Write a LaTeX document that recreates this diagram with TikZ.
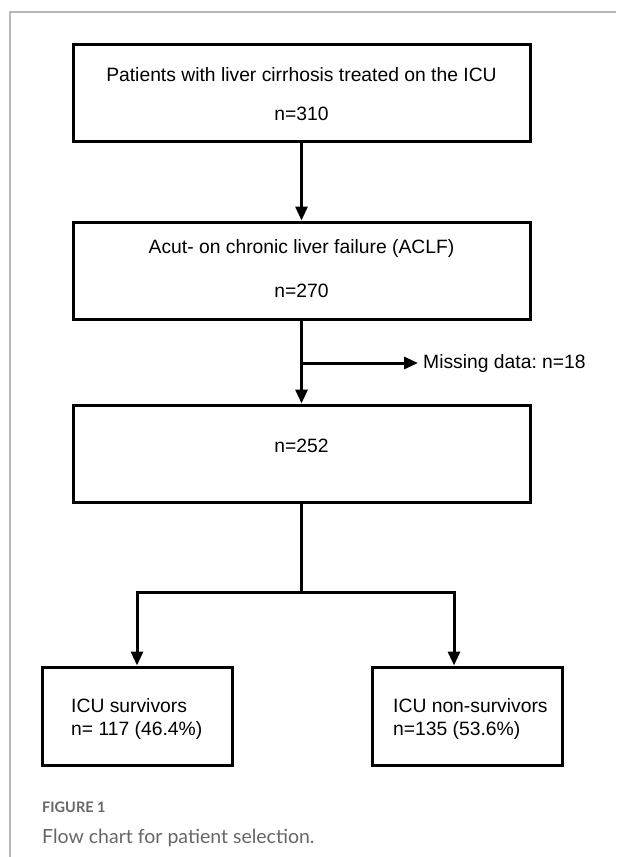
\documentclass[tikz,border=0pt]{standalone}
\usepackage{fontspec}
\setmainfont{Liberation Sans}
\newfontfamily\capfont{Lato}
\usetikzlibrary{arrows.meta}
\definecolor{framegray}{HTML}{B8B8B8}
\definecolor{capgray}{HTML}{666666}
\frenchspacing
\tikzset{
  box/.style={draw, line width=3pt, inner sep=0pt},
  txt/.style={font=\fontsize{19.3}{23}\selectfont, inner sep=0pt, anchor=base},
  txtw/.style={font=\fontsize{19.3}{23}\selectfont, inner sep=0pt, anchor=base west},
  conn/.style={line width=3pt},
  arr/.style={line width=3pt, -{Triangle[length=14pt,width=12pt]}},
  framestyle/.style={draw=framegray, line width=1.2pt},
}
\begin{document}
\begin{tikzpicture}[x=1pt,y=-1pt]
\useasboundingbox (0,0) rectangle (616,857);
% outer frame
\draw[framestyle] (10,857) -- (10,12) -- (616,12);

% boxes
\node[box, minimum width=457pt, minimum height=97pt] (b1) at (301.5,92.5) {};
\node[box, minimum width=457pt, minimum height=97pt] (b2) at (301.5,270.5) {};
\node[box, minimum width=457pt, minimum height=97pt] (b3) at (301.5,453.5) {};
\node[box, minimum width=190pt, minimum height=98pt] (b4) at (137,716) {};
\node[box, minimum width=190pt, minimum height=98pt] (b5) at (467,716) {};

% texts
\node[txt] (t1a) at (301.5,81) {Patients with liver cirrhosis treated on the ICU};
\node[txt] (t1b) at (301.5,120) {n=310};
\node[txt] (t2a) at (301.5,253) {Acut- on chronic liver failure (ACLF)};
\node[txt] (t2b) at (301.5,297) {n=270};
\node[txt] (t3) at (301.5,452) {n=252};
\node[txtw] (t4a) at (71,712) {ICU survivors};
\node[txtw] (t4b) at (71,735) {n= 117 (46.4\%)};
\node[txtw] (t5a) at (393,712) {ICU non-survivors};
\node[txtw] (t5b) at (393,735) {n=135 (53.6\%)};

% connectors
\draw[arr] (b1.south) -- (b2.north);
\draw[arr] (b2.south) -- (b3.north);
\coordinate (m) at (301.5,363);
\coordinate (mtip) at (418,363);
\node[font=\fontsize{19.3}{23}\selectfont, inner sep=0pt, anchor=west] (mt) at (423,364) {Missing data: n=18};
\draw[arr] (m) -- (mtip);

\coordinate (j) at (301.5,592);
\coordinate (jl) at (137,592);
\coordinate (jr) at (454,592);
\draw[conn] (b3.south) -- (j);
\draw[conn, line cap=rect] (jl) -- (jr);
\draw[arr] (jl) -- (jl |- b4.north);
\draw[arr] (jr) -- (jr |- b5.north);

% caption
\node[font=\capfont\bfseries\fontsize{14.5}{17}\selectfont, text=capgray, inner sep=0pt, anchor=base west] (fig) at (42,812) {FIGURE 1};
\node[font=\capfont\fontsize{19.5}{23}\selectfont, text=capgray, inner sep=0pt, anchor=base west] (cap) at (42,843) {Flow chart for patient selection.};
\end{tikzpicture}
\end{document}
